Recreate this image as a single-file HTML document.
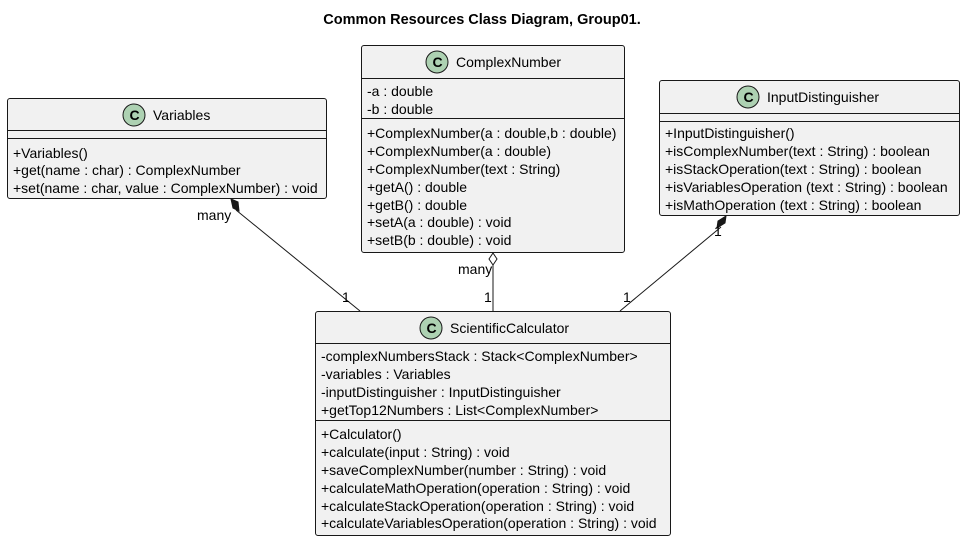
<!DOCTYPE html>
<html><head><style>body{margin:0;background:#fff}svg{display:block}text{font-family:"Liberation Sans",sans-serif;font-size:14px;fill:#000}</style></head><body>
<svg width="965" height="541" viewBox="0 0 965 541" xmlns="http://www.w3.org/2000/svg">
<text x="482" y="24" text-anchor="middle" style="font-weight:bold;font-size:14.5px">Common Resources Class Diagram, Group01.</text>
<g stroke="#181818" stroke-width="1" fill="#F1F1F1">
<rect x="7.5" y="98.5" width="319" height="100" rx="2.5"/>
<rect x="361.5" y="45.5" width="263" height="207" rx="2.5"/>
<rect x="659.5" y="80.5" width="300" height="135" rx="2.5"/>
<rect x="315.5" y="311.5" width="355" height="224" rx="2.5"/>
<line x1="7.5" y1="130.5" x2="326.5" y2="130.5"/><line x1="7.5" y1="138.5" x2="326.5" y2="138.5"/>
<line x1="361.5" y1="78.5" x2="624.5" y2="78.5"/><line x1="361.5" y1="118.5" x2="624.5" y2="118.5"/>
<line x1="659.5" y1="113.5" x2="959.5" y2="113.5"/><line x1="659.5" y1="121.5" x2="959.5" y2="121.5"/>
<line x1="315.5" y1="343.5" x2="670.5" y2="343.5"/><line x1="315.5" y1="420.5" x2="670.5" y2="420.5"/>
</g>
<g stroke="#181818" fill="#ADD1B2">
<circle cx="134" cy="115" r="11"/><circle cx="437" cy="62" r="11"/><circle cx="748" cy="97" r="11"/><circle cx="431" cy="328" r="11"/>
</g>
<g style="font-weight:bold;font-size:13px">
<text x="129.5" y="120">C</text><text x="432.5" y="67">C</text><text x="743.5" y="102">C</text><text x="426.5" y="333">C</text>
</g>
<text x="153" y="120">Variables</text>
<text x="456" y="67">ComplexNumber</text>
<text x="767" y="102">InputDistinguisher</text>
<text x="450" y="333">ScientificCalculator</text>
<g>
<text x="13" y="158">+Variables()</text>
<text x="13" y="175">+get(name : char) : ComplexNumber</text>
<text x="13" y="193">+set(name : char, value : ComplexNumber) : void</text>
<text x="367" y="96">-a : double</text>
<text x="367" y="114">-b : double</text>
<text x="367" y="138">+ComplexNumber(a : double,b : double)</text>
<text x="367" y="156">+ComplexNumber(a : double)</text>
<text x="367" y="174">+ComplexNumber(text : String)</text>
<text x="367" y="192">+getA() : double</text>
<text x="367" y="210">+getB() : double</text>
<text x="367" y="227">+setA(a : double) : void</text>
<text x="367" y="245">+setB(b : double) : void</text>
<text x="665" y="138">+InputDistinguisher()</text>
<text x="665" y="156">+isComplexNumber(text : String) : boolean</text>
<text x="665" y="174">+isStackOperation(text : String) : boolean</text>
<text x="665" y="192">+isVariablesOperation (text : String) : boolean</text>
<text x="665" y="210">+isMathOperation (text : String) : boolean</text>
<text x="321" y="361">-complexNumbersStack : Stack&lt;ComplexNumber&gt;</text>
<text x="321" y="379">-variables : Variables</text>
<text x="321" y="397">-inputDistinguisher : InputDistinguisher</text>
<text x="321" y="415">+getTop12Numbers : List&lt;ComplexNumber&gt;</text>
<text x="321" y="439">+Calculator()</text>
<text x="321" y="457">+calculate(input : String) : void</text>
<text x="321" y="475">+saveComplexNumber(number : String) : void</text>
<text x="321" y="493">+calculateMathOperation(operation : String) : void</text>
<text x="321" y="511">+calculateStackOperation(operation : String) : void</text>
<text x="321" y="528">+calculateVariablesOperation(operation : String) : void</text>
</g>
<g stroke="#181818" stroke-width="1">
<line x1="236" y1="210" x2="360" y2="311"/>
<polygon points="231,199 238,202 239,211 233,208" fill="#181818"/>
<line x1="493" y1="265" x2="493" y2="311"/>
<polygon points="493,253 497,259 493,265 489,259" fill="#fff"/>
<line x1="721" y1="227" x2="620" y2="311"/>
<polygon points="726,216 725,223 717,228 718,221" fill="#181818"/>
</g>
<g style="font-size:13px">
<text x="197" y="220">many</text>
<text x="342" y="302">1</text>
<text x="458" y="274">many</text>
<text x="484" y="302">1</text>
<text x="623" y="302">1</text>
<text x="714" y="236">1</text>
</g>
</svg>
</body></html>
